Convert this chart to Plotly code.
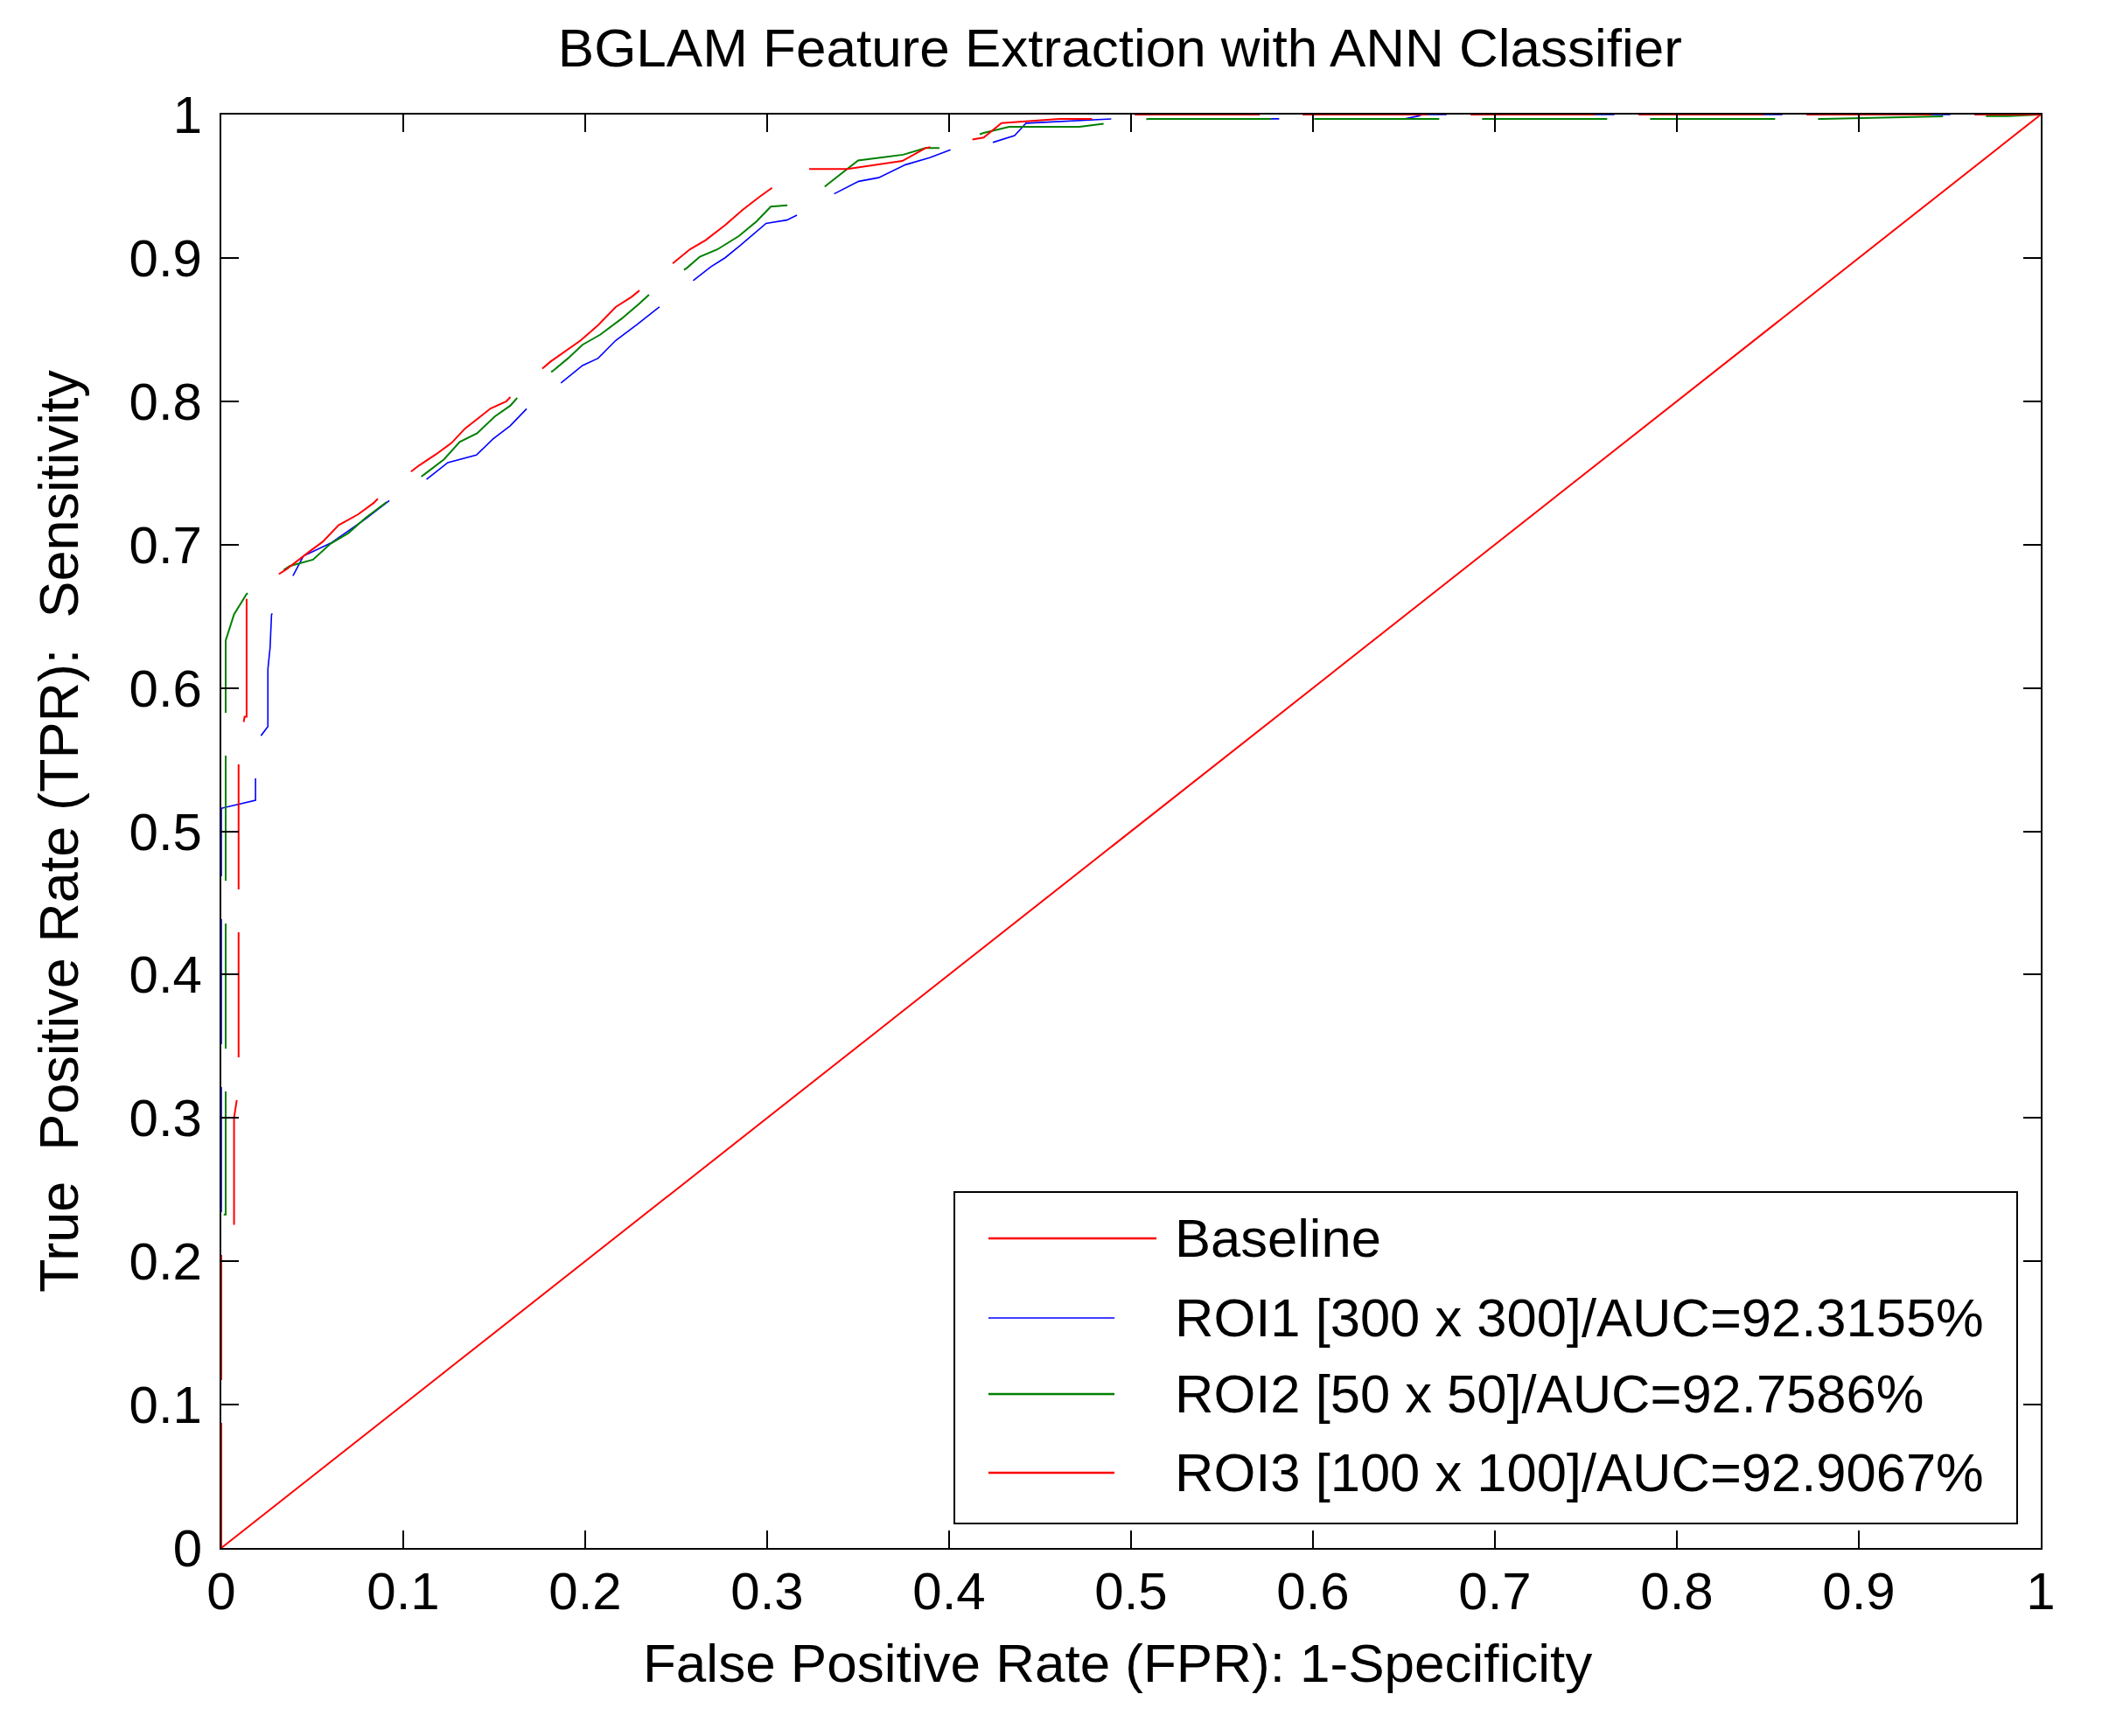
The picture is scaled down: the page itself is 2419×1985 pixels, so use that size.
# ROC curves of the BGLAM features with the ANN classifier, three ROI sizes
import plotly.graph_objects as go

# baseline (chance line)
baseline_fpr = [0, 1]
baseline_tpr = [0, 1]

# ROI1 [300 x 300]
roi1_fpr = [0, 0, 0.0188, 0.0188, 0.022, 0.0256, 0.0256, 0.0268, 0.0276, 0.0287,
            0.0397, 0.0451, 0.0601, 0.0794, 0.0927, 0.1127, 0.1245, 0.1402, 0.1492,
            0.1588, 0.168, 0.1867, 0.1985, 0.2071, 0.2168, 0.2286, 0.2408, 0.2593,
            0.269, 0.2769, 0.2855, 0.2994, 0.3108, 0.3166, 0.3368, 0.3503, 0.3613,
            0.376, 0.3894, 0.401, 0.4244, 0.436, 0.4423, 0.4894, 0.65, 0.658, 0.66, 1.0]
roi1_tpr = [0, 0.516, 0.5216, 0.54, 0.567, 0.573, 0.613, 0.628, 0.651, 0.654,
            0.679, 0.692, 0.701, 0.718, 0.731, 0.7455, 0.7572, 0.7625, 0.7735,
            0.7829, 0.795, 0.8127, 0.8249, 0.830, 0.8424, 0.8536, 0.8658, 0.884,
            0.8938, 0.9001, 0.909, 0.9241, 0.9264, 0.930, 0.9447, 0.9534, 0.956,
            0.965, 0.970, 0.9755, 0.9807, 0.9853, 0.994, 0.997, 0.997, 0.999, 1.0, 1.0]

# ROI2 [50 x 50]
roi2_fpr = [0, 0, 0.0024, 0.0024, 0.007, 0.0139, 0.0376, 0.0429, 0.0504, 0.0601,
            0.0698, 0.0794, 0.0927, 0.1116, 0.1224, 0.131, 0.1406, 0.1503, 0.1588,
            0.1642, 0.1829, 0.1906, 0.1985, 0.2082, 0.220, 0.2297, 0.2367, 0.2559,
            0.263, 0.2726, 0.2844, 0.294, 0.302, 0.3138, 0.322, 0.3337, 0.350,
            0.3748, 0.387, 0.3976, 0.4185, 0.433, 0.4716, 0.487, 0.51, 0.88, 0.927,
            0.955, 0.982, 1.0]
roi2_tpr = [0, 0.2326, 0.2326, 0.633, 0.6514, 0.6655, 0.685, 0.687, 0.6895, 0.7007,
            0.708, 0.7187, 0.7315, 0.749, 0.7595, 0.7716, 0.7777, 0.7894, 0.7969,
            0.8046, 0.8218, 0.830, 0.8394, 0.8464, 0.8576, 0.868, 0.8763, 0.893,
            0.9008, 0.9059, 0.9152, 0.9253, 0.9358, 0.937, 0.940, 0.9518, 0.968,
            0.972, 0.9766, 0.9766, 0.987, 0.9914, 0.9914, 0.994, 0.997, 0.997, 0.998,
            0.999, 0.999, 1.0]

# ROI3 [100 x 100]
roi3_fpr = [0, 0, 0.007, 0.007, 0.0091, 0.0095, 0.0095, 0.0128, 0.0139, 0.0139,
            0.0168, 0.036, 0.0483, 0.0558, 0.0644, 0.0751, 0.0837, 0.0901, 0.1088,
            0.118, 0.1266, 0.134, 0.1406, 0.148, 0.1567, 0.163, 0.181, 0.1867,
            0.1975, 0.207, 0.2168, 0.2254, 0.2344, 0.2526, 0.2576, 0.2662, 0.277,
            0.2865, 0.296, 0.3076, 0.318, 0.344, 0.3743, 0.387, 0.3957, 0.419,
            0.4288, 0.4606, 0.485, 0.50, 1.0]
roi3_tpr = [0, 0.21, 0.21, 0.30, 0.3176, 0.32, 0.555, 0.58, 0.58, 0.6655,
            0.667, 0.683, 0.695, 0.702, 0.7135, 0.721, 0.729, 0.737, 0.7553,
            0.763, 0.771, 0.781, 0.7875, 0.795, 0.800, 0.8085, 0.8277, 0.8326,
            0.8424, 0.853, 0.8658, 0.8727, 0.882, 0.9008, 0.906, 0.9124, 0.923,
            0.9335, 0.9428, 0.9533, 0.962, 0.962, 0.9676, 0.9766, 0.9788, 0.984,
            0.994, 0.997, 0.997, 1.0, 1.0]

legend_labels = ["Baseline",
                 "ROI1 [300 x 300]/AUC=92.3155%",
                 "ROI2 [50 x 50]/AUC=92.7586%",
                 "ROI3 [100 x 100]/AUC=92.9067%"]
legend_colors = ["#ff0000", "#0000ff", "#008000", "#ff0000"]

FONT = "Liberation Sans, Arial, sans-serif"
DASH = "143px,49px"

fig = go.Figure()

# chance line, solid
fig.add_trace(go.Scatter(x=baseline_fpr, y=baseline_tpr, mode="lines",
                         line=dict(color="#ff0000", width=2), name=legend_labels[0]))
# the three ROC curves, drawn with the broken line of the original export
fig.add_trace(go.Scatter(x=roi1_fpr, y=roi1_tpr, mode="lines",
                         line=dict(color="#0000ff", width=1.6, dash=DASH), name=legend_labels[1]))
fig.add_trace(go.Scatter(x=roi2_fpr, y=roi2_tpr, mode="lines",
                         line=dict(color="#008000", width=2, dash=DASH), name=legend_labels[2]))
fig.add_trace(go.Scatter(x=roi3_fpr, y=roi3_tpr, mode="lines",
                         line=dict(color="#ff0000", width=2, dash=DASH), name=legend_labels[3]))

# boxed legend in the lower right corner, MATLAB style with long line samples
fig.add_shape(type="rect", xref="paper", yref="paper", x0=0.4029, x1=0.987, y0=0.0171, y1=0.2483,
              line=dict(color="black", width=2), fillcolor="white", layer="above")
row_y = [0.216, 0.1605, 0.1074, 0.0525]
sample_end = [0.514, 0.4909, 0.4909, 0.4909]
sample_width = [2.5, 1.5, 2.5, 2.5]
for i in range(len(legend_labels)):
    fig.add_shape(type="line", xref="paper", yref="paper", x0=0.4216, x1=sample_end[i],
                  y0=row_y[i], y1=row_y[i], layer="above",
                  line=dict(color=legend_colors[i], width=sample_width[i]))
    fig.add_annotation(xref="paper", yref="paper", x=0.523, y=row_y[i], text=legend_labels[i],
                       showarrow=False, xanchor="left", yanchor="middle",
                       font=dict(family=FONT, size=61.5, color="black"))

# x axis title sits a little left of the plot centre in the original
fig.add_annotation(xref="paper", yref="paper", x=0.4925, y=-0.0805, yanchor="middle",
                   text="False Positive Rate (FPR): 1-Specificity", showarrow=False,
                   font=dict(family=FONT, size=62, color="black"))

axis_style = dict(range=[0, 1], dtick=0.1, showgrid=False, zeroline=False,
                  showline=True, linecolor="black", linewidth=2, mirror="ticks",
                  ticks="inside", ticklen=20, tickwidth=1.5, tickcolor="black",
                  tickfont=dict(family=FONT, size=60, color="black"))

fig.update_xaxes(**axis_style, ticklabelstandoff=-4)
fig.update_yaxes(**axis_style, ticklabelstandoff=8,
                 title=dict(text="True\u00a0 Positive Rate (TPR):\u00a0 Sensitivity", standoff=38,
                            font=dict(family=FONT, size=63, color="black")))

# the page body adds 8px, so the margins are set for a plot box at 253..2333 x 131..1770
fig.update_layout(width=2419, height=1985,
                  margin=dict(l=245, r=94, t=123, b=223),
                  paper_bgcolor="white", plot_bgcolor="white",
                  showlegend=False,
                  title=dict(text="BGLAM Feature Extraction with ANN Classifier",
                             x=0.526, xanchor="center", y=1 - 46 / 1985, yanchor="middle",
                             font=dict(family=FONT, size=62, color="black")))

fig.write_html("out.html")
